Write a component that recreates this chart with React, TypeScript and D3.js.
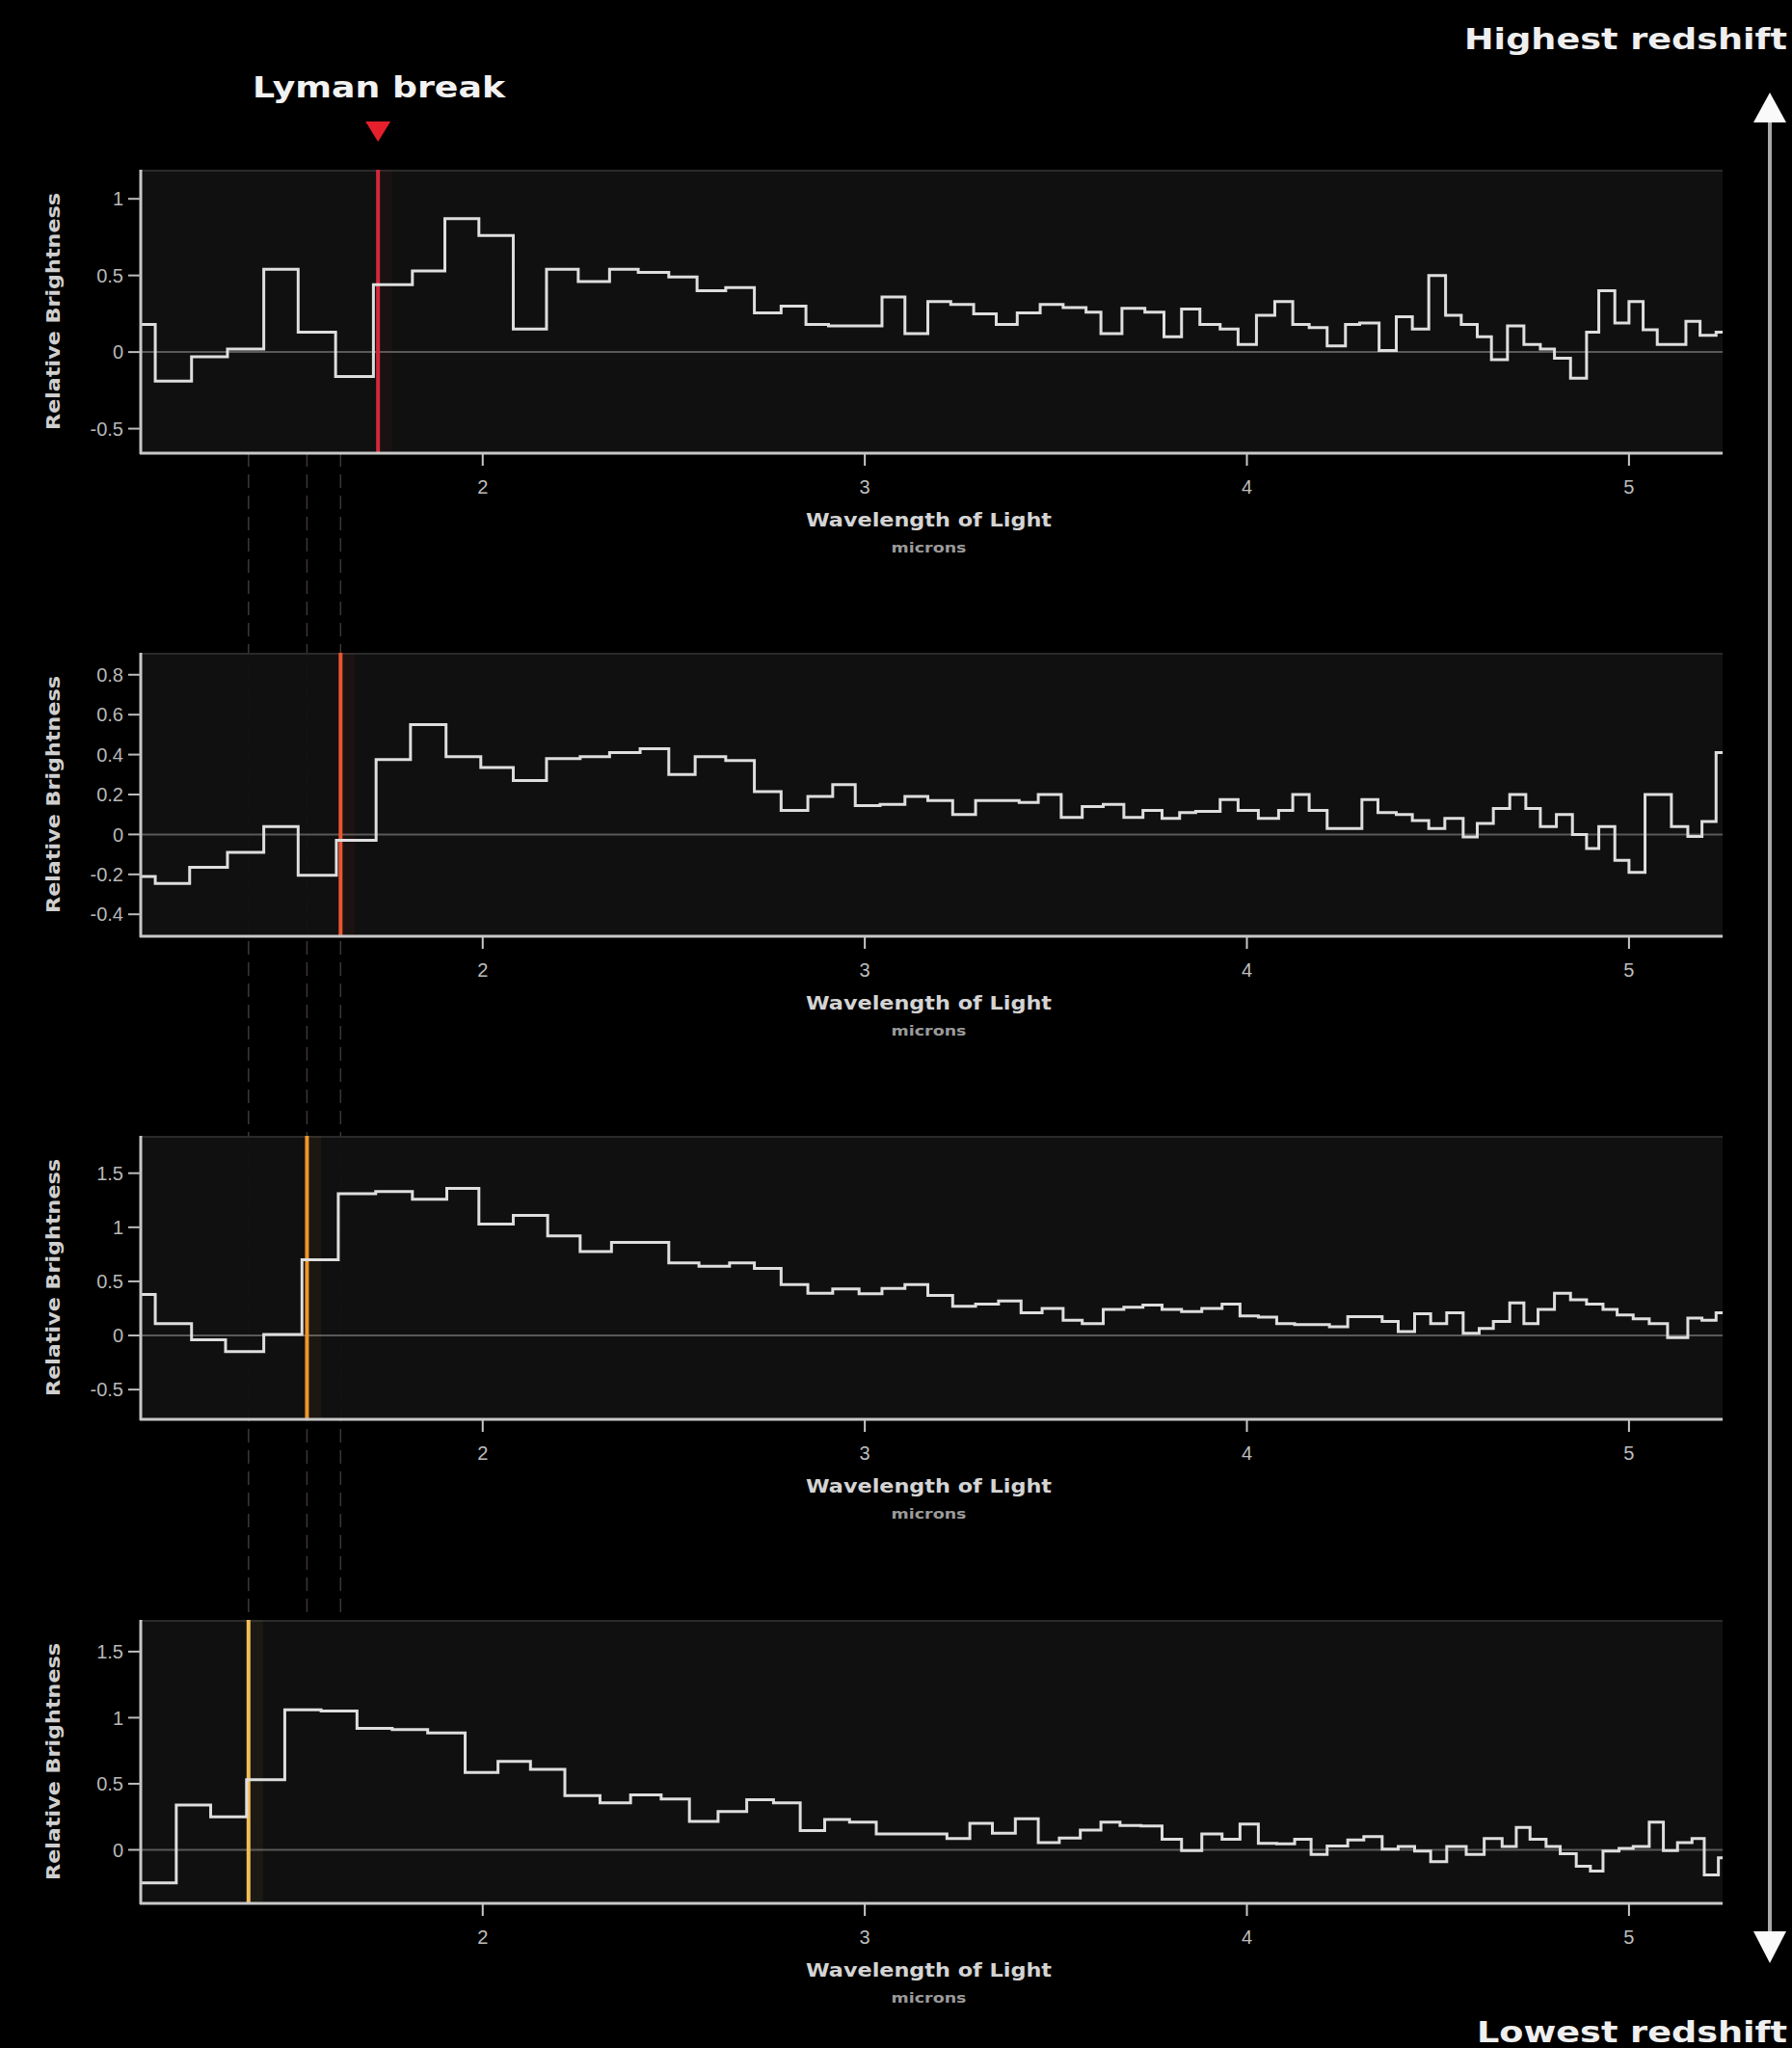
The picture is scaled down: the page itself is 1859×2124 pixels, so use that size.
import React from "react";
import * as d3 from "d3";

// ---------- DATA ----------
const xTickValues = [2, 3, 4, 5];

// Panel 1 (highest redshift) — left bin edges (microns) and relative brightness
const p1Edges = [1.105, 1.143, 1.238, 1.332, 1.427, 1.517, 1.615, 1.714, 1.816, 1.901, 1.990, 2.080, 2.167, 2.250, 2.332, 2.407, 2.487, 2.561, 2.636, 2.711, 2.781, 2.846, 2.905, 2.975, 3.045, 3.105, 3.165, 3.225, 3.285, 3.344, 3.399, 3.459, 3.519, 3.579, 3.618, 3.673, 3.733, 3.783, 3.829, 3.877, 3.930, 3.977, 4.025, 4.073, 4.120, 4.163, 4.210, 4.258, 4.295, 4.346, 4.391, 4.433, 4.476, 4.520, 4.561, 4.603, 4.640, 4.682, 4.725, 4.768, 4.805, 4.847, 4.889, 4.921, 4.963, 5.000, 5.037, 5.074, 5.149, 5.186, 5.228];
const p1Values = [0.18, -0.19, -0.03, 0.02, 0.54, 0.13, -0.16, 0.44, 0.53, 0.87, 0.76, 0.15, 0.54, 0.46, 0.54, 0.52, 0.49, 0.40, 0.42, 0.255, 0.30, 0.18, 0.17, 0.17, 0.36, 0.12, 0.33, 0.31, 0.25, 0.18, 0.255, 0.31, 0.29, 0.26, 0.12, 0.285, 0.26, 0.10, 0.28, 0.18, 0.15, 0.05, 0.24, 0.33, 0.18, 0.16, 0.04, 0.18, 0.19, 0.01, 0.23, 0.15, 0.50, 0.24, 0.18, 0.10, -0.05, 0.17, 0.05, 0.02, -0.04, -0.17, 0.13, 0.40, 0.19, 0.33, 0.145, 0.05, 0.20, 0.11, 0.13];

// Panel 2
const p2Edges = [1.105, 1.143, 1.233, 1.332, 1.427, 1.517, 1.617, 1.721, 1.811, 1.904, 1.995, 2.080, 2.167, 2.255, 2.332, 2.412, 2.487, 2.556, 2.636, 2.711, 2.781, 2.851, 2.916, 2.975, 3.040, 3.105, 3.165, 3.230, 3.290, 3.350, 3.404, 3.454, 3.514, 3.569, 3.624, 3.678, 3.728, 3.778, 3.824, 3.866, 3.930, 3.977, 4.030, 4.083, 4.120, 4.163, 4.210, 4.301, 4.343, 4.391, 4.433, 4.476, 4.518, 4.566, 4.603, 4.645, 4.688, 4.730, 4.768, 4.810, 4.852, 4.889, 4.921, 4.963, 5.000, 5.042, 5.111, 5.154, 5.191, 5.228];
const p2Values = [-0.21, -0.245, -0.165, -0.09, 0.04, -0.205, -0.03, 0.375, 0.55, 0.39, 0.335, 0.27, 0.38, 0.39, 0.41, 0.43, 0.30, 0.39, 0.37, 0.215, 0.12, 0.19, 0.25, 0.145, 0.15, 0.19, 0.17, 0.10, 0.17, 0.17, 0.16, 0.20, 0.085, 0.14, 0.15, 0.085, 0.12, 0.08, 0.11, 0.115, 0.175, 0.12, 0.08, 0.12, 0.20, 0.12, 0.03, 0.175, 0.11, 0.10, 0.07, 0.03, 0.08, -0.013, 0.055, 0.13, 0.20, 0.13, 0.04, 0.10, 0.00, -0.07, 0.04, -0.13, -0.19, 0.20, 0.04, -0.01, 0.065, 0.41];

// Panel 3
const p3Edges = [1.105, 1.143, 1.238, 1.327, 1.427, 1.527, 1.622, 1.720, 1.816, 1.906, 1.990, 2.080, 2.170, 2.255, 2.337, 2.412, 2.487, 2.566, 2.646, 2.711, 2.781, 2.851, 2.916, 2.985, 3.045, 3.105, 3.165, 3.230, 3.290, 3.350, 3.409, 3.464, 3.519, 3.569, 3.624, 3.678, 3.728, 3.778, 3.829, 3.882, 3.935, 3.982, 4.030, 4.078, 4.125, 4.170, 4.216, 4.264, 4.306, 4.354, 4.396, 4.439, 4.481, 4.523, 4.566, 4.608, 4.645, 4.688, 4.725, 4.762, 4.805, 4.847, 4.889, 4.932, 4.969, 5.011, 5.053, 5.101, 5.154, 5.191, 5.228];
const p3Values = [0.38, 0.11, -0.04, -0.15, 0.01, 0.70, 1.31, 1.33, 1.26, 1.36, 1.03, 1.11, 0.92, 0.775, 0.86, 0.86, 0.67, 0.64, 0.67, 0.62, 0.47, 0.39, 0.43, 0.385, 0.435, 0.47, 0.37, 0.27, 0.29, 0.32, 0.21, 0.25, 0.14, 0.11, 0.24, 0.26, 0.28, 0.24, 0.22, 0.25, 0.29, 0.18, 0.17, 0.11, 0.10, 0.10, 0.08, 0.175, 0.175, 0.13, 0.035, 0.20, 0.11, 0.21, 0.02, 0.065, 0.13, 0.30, 0.11, 0.24, 0.39, 0.33, 0.29, 0.24, 0.19, 0.155, 0.11, -0.02, 0.16, 0.14, 0.21];

// Panel 4 (lowest redshift)
const p4Edges = [1.105, 1.198, 1.288, 1.382, 1.482, 1.577, 1.671, 1.763, 1.856, 1.954, 2.040, 2.125, 2.215, 2.307, 2.387, 2.467, 2.541, 2.616, 2.691, 2.761, 2.831, 2.895, 2.960, 3.030, 3.092, 3.153, 3.215, 3.275, 3.334, 3.394, 3.454, 3.509, 3.564, 3.618, 3.668, 3.723, 3.778, 3.829, 3.882, 3.935, 3.982, 4.030, 4.078, 4.125, 4.168, 4.210, 4.264, 4.306, 4.354, 4.396, 4.439, 4.481, 4.523, 4.574, 4.621, 4.668, 4.705, 4.741, 4.783, 4.820, 4.862, 4.899, 4.932, 4.974, 5.011, 5.053, 5.090, 5.127, 5.165, 5.197, 5.234];
const p4Values = [-0.25, 0.34, 0.25, 0.53, 1.06, 1.05, 0.92, 0.91, 0.885, 0.585, 0.67, 0.61, 0.41, 0.355, 0.415, 0.385, 0.215, 0.29, 0.38, 0.355, 0.145, 0.23, 0.21, 0.12, 0.12, 0.12, 0.085, 0.20, 0.125, 0.235, 0.055, 0.09, 0.15, 0.21, 0.185, 0.18, 0.08, -0.005, 0.12, 0.08, 0.195, 0.05, 0.045, 0.08, -0.035, 0.03, 0.075, 0.10, 0.005, 0.025, -0.01, -0.09, 0.025, -0.035, 0.085, 0.025, 0.17, 0.08, 0.025, -0.03, -0.125, -0.16, -0.01, 0.01, 0.025, 0.21, -0.005, 0.055, 0.085, -0.19, -0.06];

const yDomains = [[-0.66, 1.19], [-0.51, 0.91], [-0.775, 1.845], [-0.405, 1.74]];
const yTickSets = [[-0.5, 0, 0.5, 1], [-0.4, -0.2, 0, 0.2, 0.4, 0.6, 0.8], [-0.5, 0, 0.5, 1, 1.5], [0, 0.5, 1, 1.5]];
const breakWavelengths = [1.726, 1.628, 1.54, 1.387];

// ---------- LAYOUT / STYLE ----------
const W = 1859;
const H = 2124;
const X_MIN = 1.105;
const X_MAX = 5.245;
const PLOT_LEFT = 146;
const PLOT_RIGHT = 1787;
const PANEL_TOPS = [176, 677, 1178, 1680];
const PANEL_H = 294;
const breakColors = ["#d3283c", "#ea5530", "#f0952e", "#f4bd55"];
const FONT = "'Liberation Sans', Arial, Helvetica, sans-serif";
const WIDE = "'DejaVu Sans', 'Liberation Sans', Arial, sans-serif";

const panels = [
  { edges: p1Edges, values: p1Values },
  { edges: p2Edges, values: p2Values },
  { edges: p3Edges, values: p3Values },
  { edges: p4Edges, values: p4Values },
];

const x = d3.scaleLinear().domain([X_MIN, X_MAX]).range([PLOT_LEFT, PLOT_RIGHT]);

function fmt(v: number) {
  if (v === 0) return "0";
  return String(v);
}

function Panel({ idx }: { idx: number }) {
  const top = PANEL_TOPS[idx];
  const bottom = top + PANEL_H;
  const y = d3.scaleLinear().domain(yDomains[idx]).range([bottom, top]);
  const { edges, values } = panels[idx];
  const pts: [number, number][] = edges.map((e, i) => [e, values[i]]);
  pts.push([X_MAX, values[values.length - 1]]);
  const line = d3
    .line<[number, number]>()
    .x((d) => x(d[0]))
    .y((d) => y(d[1]))
    .curve(d3.curveStepAfter);
  const bx = x(breakWavelengths[idx]);
  const midY = (top + bottom) / 2;
  const labelX = (PLOT_LEFT + PLOT_RIGHT) / 2 - 3;
  return (
    <g>
      <rect x={PLOT_LEFT} y={top} width={PLOT_RIGHT - PLOT_LEFT} height={PANEL_H} fill="#111111" opacity={0.95} />
      <line x1={PLOT_LEFT} x2={PLOT_RIGHT} y1={top + 1} y2={top + 1} stroke="#2a2a2a" strokeWidth={2} />
      {/* zero line */}
      <line x1={PLOT_LEFT} x2={PLOT_RIGHT} y1={y(0)} y2={y(0)} stroke="#595959" strokeWidth={2} />
      {/* break glow + line */}
      <rect x={bx + 1} y={top} width={14} height={PANEL_H} fill={breakColors[idx]} opacity={0.05} />
      <line x1={bx} x2={bx} y1={top} y2={bottom} stroke={breakColors[idx]} strokeWidth={4} />
      {/* spectrum */}
      <path d={line(pts) || ""} fill="none" stroke="#dedede" strokeWidth={3} strokeLinejoin="miter" />
      {/* axes */}
      <line x1={PLOT_LEFT} x2={PLOT_LEFT} y1={top} y2={bottom + 1} stroke="#c8c8c8" strokeWidth={3} />
      <line x1={PLOT_LEFT - 1} x2={PLOT_RIGHT} y1={bottom} y2={bottom} stroke="#c8c8c8" strokeWidth={3} />
      {yTickSets[idx].map((t) => (
        <g key={t}>
          <line x1={PLOT_LEFT - 13} x2={PLOT_LEFT} y1={y(t)} y2={y(t)} stroke="#bdbdbd" strokeWidth={2} />
          <text x={PLOT_LEFT - 18} y={y(t)} dy="0.36em" textAnchor="end" fill="#b8b8b8" fontSize={20} fontFamily={FONT}>
            {fmt(t)}
          </text>
        </g>
      ))}
      {xTickValues.map((t) => (
        <g key={t}>
          <line x1={x(t)} x2={x(t)} y1={bottom} y2={bottom + 13} stroke="#c8c8c8" strokeWidth={2} />
          <text x={x(t)} y={bottom + 42} textAnchor="middle" fill="#bdbdbd" fontSize={20} fontFamily={FONT}>
            {t}
          </text>
        </g>
      ))}
      <text x={labelX} y={bottom + 76} textAnchor="middle" fill="#d4d4d4" fontSize={20} fontWeight="bold" fontFamily={WIDE} textLength={255} lengthAdjust="spacingAndGlyphs">
        Wavelength of Light
      </text>
      <text x={labelX} y={bottom + 103} textAnchor="middle" fill="#9a9a9a" fontSize={14} fontWeight="bold" fontFamily={WIDE} textLength={78} lengthAdjust="spacingAndGlyphs">
        microns
      </text>
      <text
        transform={`translate(${62},${midY}) rotate(-90)`}
        textAnchor="middle"
        fill="#cfcfcf"
        fontSize={19}
        fontWeight="bold"
        fontFamily={WIDE}
        textLength={246}
        lengthAdjust="spacingAndGlyphs"
      >
        Relative Brightness
      </text>
    </g>
  );
}

export default function App() {
  const dashTop = PANEL_TOPS[0] + PANEL_H;
  const dashBottom = PANEL_TOPS[3];
  const arrowX = 1836;
  return (
    <svg width={W} height={H} style={{ position: "absolute", left: 0, top: 0, display: "block" }}>
      <rect x={0} y={0} width={W} height={H} fill="#000" />
      {/* dashed guide lines for the breaks of lower panels */}
      {[1, 2, 3].map((i) => (
        <line
          key={i}
          x1={x(breakWavelengths[i])}
          x2={x(breakWavelengths[i])}
          y1={dashTop}
          y2={dashBottom}
          stroke="#8a7a70"
          strokeOpacity={0.45}
          strokeWidth={1.5}
          strokeDasharray="14 8"
        />
      ))}
      {[0, 1, 2, 3].map((i) => (
        <Panel key={i} idx={i} />
      ))}
      {/* Lyman break label */}
      <text x={393} y={101} textAnchor="middle" fill="#f2f2f2" fontSize={31} fontWeight="bold" fontFamily={WIDE} textLength={262} lengthAdjust="spacingAndGlyphs">
        Lyman break
      </text>
      <path d={`M${x(breakWavelengths[0]) - 13},126 L${x(breakWavelengths[0]) + 13},126 L${x(breakWavelengths[0])},147 Z`} fill="#e5202c" />
      {/* redshift arrow */}
      <line x1={arrowX} x2={arrowX} y1={124} y2={2006} stroke="#a9a9a9" strokeWidth={4} />
      <path d={`M${arrowX},96 L${arrowX + 17},127 L${arrowX - 17},127 Z`} fill="#fafafa" />
      <path d={`M${arrowX},2036 L${arrowX + 17},2003 L${arrowX - 17},2003 Z`} fill="#fafafa" />
      <text x={1854} y={51} textAnchor="end" fill="#efefef" fontSize={31} fontWeight="bold" fontFamily={WIDE} textLength={335} lengthAdjust="spacingAndGlyphs">
        Highest redshift
      </text>
      <text x={1854} y={2118} textAnchor="end" fill="#efefef" fontSize={31} fontWeight="bold" fontFamily={WIDE} textLength={322} lengthAdjust="spacingAndGlyphs">
        Lowest redshift
      </text>
    </svg>
  );
}
